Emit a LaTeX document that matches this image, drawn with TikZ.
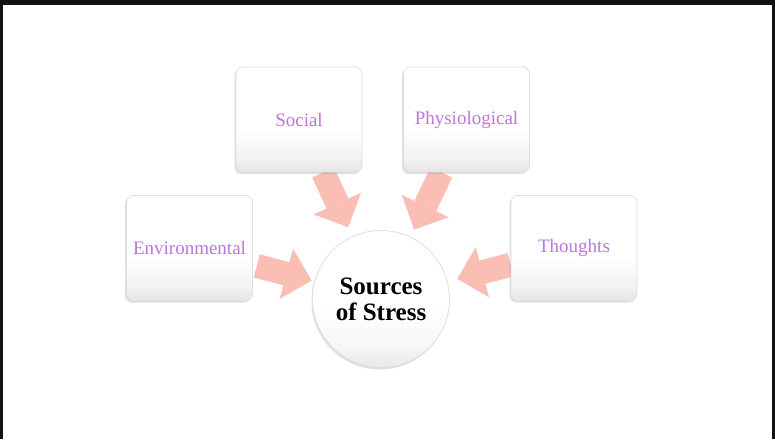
\documentclass[tikz,border=0pt]{standalone}
\usepackage{fontspec}
\setmainfont{Liberation Serif}
\usetikzlibrary{arrows.meta,shadows,backgrounds}
\definecolor{lbl}{RGB}{188,118,222}
\definecolor{arr}{RGB}{250,190,180}
\definecolor{frame}{RGB}{18,18,18}
\pgfdeclareverticalshading{boxshade}{100bp}{color(0bp)=(gray!20); color(25bp)=(gray!20); color(32bp)=(gray!10); color(45bp)=(white); color(100bp)=(white)}
\pgfdeclareverticalshading{hubshade}{100bp}{color(0bp)=(gray!18); color(25bp)=(gray!18); color(33bp)=(gray!6); color(48bp)=(white); color(100bp)=(white)}
\begin{document}
\begin{tikzpicture}[x=1pt,y=-1pt,
  srcbox/.style={rectangle, rounded corners=7pt, minimum width=126pt, minimum height=105pt,
    shading=boxshade, draw=gray!25, line width=0.8pt,
    text=lbl, font=\fontsize{19}{22}\selectfont,
    drop shadow={shadow xshift=-1.5pt, shadow yshift=-2pt, opacity=0.25, fill=gray}},
  hub/.style={circle, minimum size=137pt, inner sep=0pt, align=center,
    shading=hubshade, draw=gray!25, line width=0.8pt,
    font=\fontsize{25}{26}\selectfont\bfseries,
    drop shadow={shadow xshift=-1pt, shadow yshift=-2pt, opacity=0.25, fill=gray}},
  flow/.style={draw=arr, line width=24pt, -{Triangle[width=52pt,length=26pt,line width=0pt]}}
]
\useasboundingbox (0,0) rectangle (775,439);

\node[srcbox] (soc) at (299,119.5) {Social};
\node[srcbox] (phy) at (466.5,119.5) {Physiological};
\node[srcbox] (env) at (189.5,248) {Environmental};
\node[srcbox] (tho) at (574,248) {Thoughts};
\node[hub] (src) at (381,299) {Sources\\of Stress};

\begin{scope}[on background layer]
  \fill[white] (0,0) rectangle (775,439);
  \draw[flow, shorten >=10pt] (soc) -- (src);
  \draw[flow, shorten >=8pt] (phy) -- (src);
  \draw[flow, shorten <=4pt, shorten >=3pt] (env) -- (src);
  \draw[flow, shorten >=10pt] (tho) -- (src);
\end{scope}

\fill[frame] (0,0) rectangle (775,5);
\fill[frame] (0,0) rectangle (3,439);
\fill[frame] (772,0) rectangle (775,439);
\end{tikzpicture}
\end{document}
